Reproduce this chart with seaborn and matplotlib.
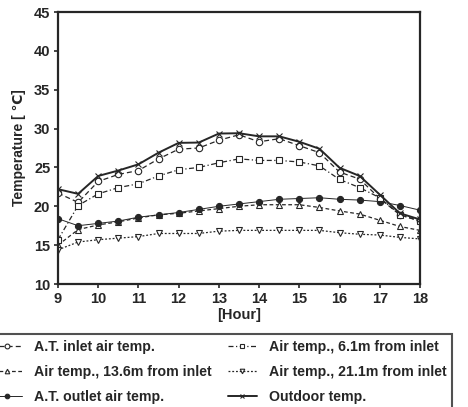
import numpy as np
import pandas as pd
import matplotlib
matplotlib.use("Agg")
import matplotlib.pyplot as plt
import seaborn as sns

hours = [9, 9.5, 10, 10.5, 11, 11.5, 12, 12.5, 13, 13.5, 14, 14.5, 15, 15.5, 16, 16.5, 17, 17.5, 18]

inlet = [21.7, 20.5, 23.2, 24.1, 24.6, 26.1, 27.35, 27.5, 28.5, 29.2, 28.3, 28.7, 27.8, 26.9, 24.4, 23.5, 21.0, 18.9, 18.1]
air_6_1 = [15.7, 20.1, 21.6, 22.4, 22.9, 23.9, 24.7, 25.0, 25.6, 26.1, 25.9, 25.9, 25.7, 25.2, 23.45, 22.4, 21.1, 18.9, 18.1]
air_13_6 = [15.0, 17.0, 17.6, 18.0, 18.5, 18.9, 19.1, 19.4, 19.7, 20.0, 20.2, 20.2, 20.2, 19.85, 19.4, 19.0, 18.2, 17.4, 16.9]
air_21_1 = [14.4, 15.4, 15.7, 15.9, 16.1, 16.5, 16.5, 16.5, 16.8, 16.9, 16.9, 16.9, 16.9, 16.9, 16.6, 16.4, 16.3, 16.0, 15.8]
outlet = [18.4, 17.5, 17.8, 18.1, 18.6, 18.9, 19.2, 19.6, 20.0, 20.3, 20.6, 20.9, 21.0, 21.1, 20.9, 20.8, 20.6, 20.1, 19.5]
outdoor = [22.2, 21.6, 23.9, 24.6, 25.4, 26.9, 28.16, 28.2, 29.36, 29.4, 29.0, 29.0, 28.3, 27.4, 24.95, 23.9, 21.5, 19.1, 18.3]

labels = ["A.T. inlet air temp.", "Air temp., 13.6m from inlet", "A.T. outlet air temp.",
          "Air temp., 6.1m from inlet", "Air temp., 21.1m from inlet", "Outdoor temp."]
series = [inlet, air_13_6, outlet, air_6_1, air_21_1, outdoor]

xticks = list(range(9, 19))
yticks = list(range(10, 50, 5))

sns.set_style("ticks")
plt.rcParams['font.family'] = ['Liberation Sans', 'DejaVu Sans']

fig = plt.figure(figsize=(4.68, 4.07), dpi=100)
ax = fig.add_axes([58/468, 1-284/407, (420-58)/468, (284-12)/407])

ink = "#262626"
styles = [
    dict(linestyle=(0, (4, 2.5)), marker="o", mfc="white", ms=4.6, lw=0.9),
    dict(linestyle=(0, (3, 2)), marker="^", mfc="white", ms=4.4, lw=0.9),
    dict(linestyle="-", marker="o", mfc=ink, ms=4.4, lw=0.7),
    dict(linestyle=(0, (4, 2, 1, 2)), marker="s", mfc="white", ms=4.2, lw=0.9),
    dict(linestyle=(0, (1.5, 1.5)), marker="v", mfc="white", ms=4.4, lw=0.9),
    dict(linestyle="-", marker="x", mfc=ink, ms=4.6, lw=1.4),
]

for lab, vals, st in zip(labels, series, styles):
    df = pd.DataFrame({"Hour": hours, "Temp": vals})
    sns.lineplot(data=df, x="Hour", y="Temp", ax=ax, color=ink, label=lab,
                 linestyle=st["linestyle"], marker=st["marker"], markerfacecolor=st["mfc"],
                 markeredgecolor=ink, markersize=st["ms"], linewidth=st["lw"],
                 markeredgewidth=0.8, legend=False)

ax.set_xlim(9, 18)
ax.set_ylim(10, 45)
ax.set_xticks(xticks)
ax.set_yticks(yticks)
ax.tick_params(direction="out", length=3, width=1.2, colors=ink, labelsize=10.5, pad=2.5)
for t in ax.get_xticklabels() + ax.get_yticklabels():
    t.set_fontweight("bold")
for sp in ax.spines.values():
    sp.set_visible(True)
    sp.set_linewidth(1.6)
    sp.set_color(ink)
ax.set_xlabel("[Hour]", fontsize=10.5, fontweight="bold", color=ink, labelpad=2)
ax.set_ylabel("Temperature [ ℃]", fontsize=10, fontweight="bold", color=ink, labelpad=6)

handles, labs = ax.get_legend_handles_labels()
leg = fig.legend(handles, labs, ncol=2, loc="upper right", bbox_to_anchor=(452/468, 1-334/407),
                 prop={"weight": "bold", "size": 10.2}, frameon=True, fancybox=False,
                 handlelength=2.0, handletextpad=0.85, columnspacing=1.2, labelspacing=0.8,
                 borderpad=0.4, borderaxespad=0, markerscale=0.75)
leg.get_frame().set_edgecolor(ink)
leg.get_frame().set_linewidth(1.5)
for t in leg.get_texts():
    t.set_color(ink)

fig.savefig("out.png", dpi=100)
